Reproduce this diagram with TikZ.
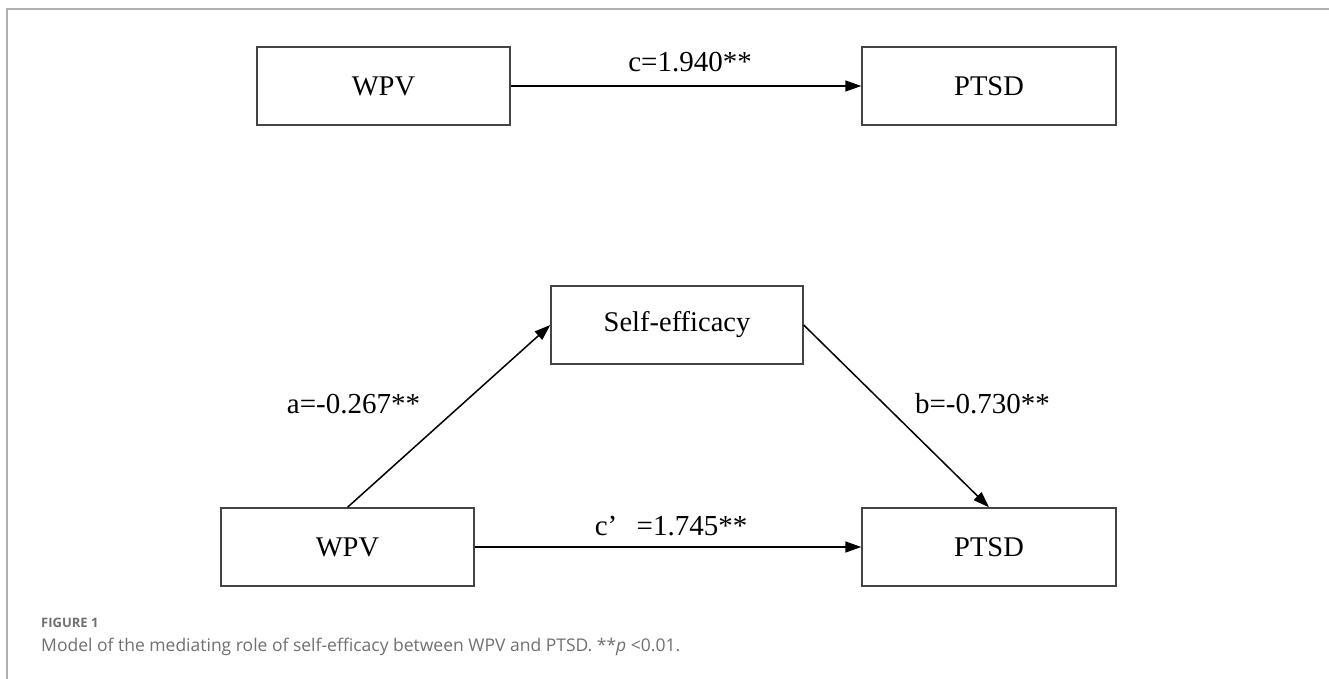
\documentclass[tikz,border=0pt]{standalone}
\usepackage{fontspec}
\setmainfont{Liberation Serif}
\newfontfamily\capfont{Open Sans}
\usetikzlibrary{arrows.meta}
\definecolor{framegray}{HTML}{B0B0B0}
\definecolor{boxgray}{HTML}{444444}
\definecolor{capgray}{HTML}{707070}
\tikzset{
  varbox/.style={draw=boxgray, line width=1.4pt, rectangle, minimum height=78pt, inner sep=0pt, font=\fontsize{28.5}{30}\selectfont},
  conn/.style={draw=black, line width=1.5pt, -{Triangle[length=16pt,width=11pt]}},
  coef/.style={font=\fontsize{29}{31}\selectfont, inner sep=0pt, anchor=base},
}
\begin{document}
\begin{tikzpicture}[x=1pt,y=-1pt]
\useasboundingbox (0,0) rectangle (1329,679);
% frame
\draw[framegray, line width=1.5pt] (7,679) -- (7,9) -- (1329,9);
% top model
\node[varbox, minimum width=253pt] (wpv1) at (383.5,86) {WPV};
\node[varbox, minimum width=254pt] (ptsd1) at (989,86) {PTSD};
\draw[conn] (wpv1) -- (ptsd1);
\node[coef] (lc) at (690,72) {c=1.940**};
% bottom model
\node[varbox, minimum width=252pt] (self) at (677,325) {Self-efficacy};
\node[varbox, minimum width=253pt] (wpv2) at (347.5,547) {WPV};
\node[varbox, minimum width=254pt] (ptsd2) at (989,547) {PTSD};
\draw[conn] (wpv2.north) -- (self.west);
\draw[conn] (self.east) -- (ptsd2.north);
\draw[conn] (wpv2) -- (ptsd2);
\node[coef] (la) at (353.5,413) {a=-0.267**};
\node[coef] (lb) at (982.5,413) {b=-0.730**};
\node[coef] (lcp) at (671,535) {c’\hspace{0.667em}=1.745**};
% caption
\node[anchor=base west, inner sep=0pt, text=capgray, font=\capfont\bfseries\fontsize{13}{15}\selectfont] (fig) at (41,627) {FIGURE 1};
\node[anchor=base west, inner sep=0pt, text=capgray, font=\capfont\fontsize{17.5}{20}\selectfont] (cap) at (41,651) {Model of the mediating role of self-efficacy between WPV and PTSD. **\textit{p} <0.01.};
\end{tikzpicture}
\end{document}
